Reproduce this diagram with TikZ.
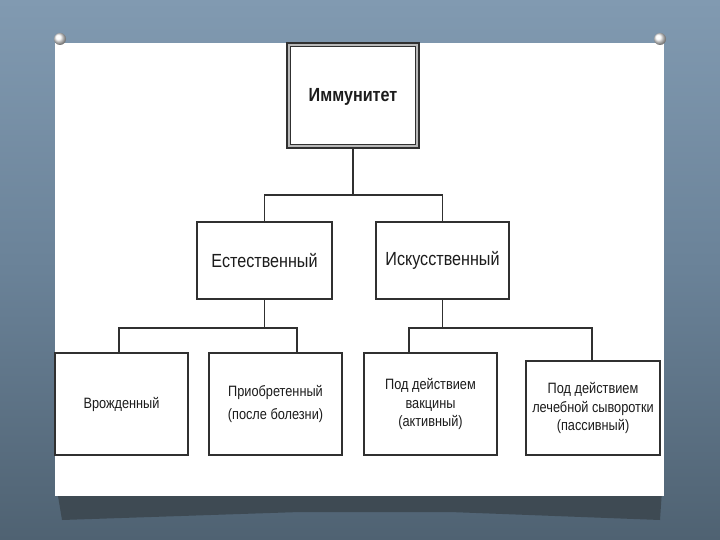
\documentclass[tikz,border=0pt]{standalone}
\usepackage{fontspec}
\setmainfont{Liberation Sans}[FakeStretch=0.85]
\usetikzlibrary{calc}
\definecolor{bgtop}{HTML}{819AB1}
\definecolor{bgmid}{HTML}{6A8298}
\definecolor{bgbot}{HTML}{4F6272}
\definecolor{shadowc}{HTML}{3E4A53}
\definecolor{ink}{HTML}{1C1C1C}
\definecolor{edge}{HTML}{303030}
\tikzset{
  box/.style={draw=edge, line width=1.4pt, fill=white, inner sep=0pt, align=center, text=ink},
  midtext/.style={font=\fontsize{19}{22}\selectfont},
  lowtext/.style={font=\fontsize{15}{18.5}\selectfont},
  conn/.style={draw=edge, line width=1.4pt},
  pin/.style={ball color=white, draw=none}
}
\begin{document}
\begin{tikzpicture}[x=1pt,y=-1pt]
\useasboundingbox (0,0) rectangle (720,540);
% background
\shade[top color=bgtop, bottom color=bgbot, middle color=bgmid] (0,0) rectangle (720,540);
% shadow under panel
\fill[shadowc] (57,490) -- (662,490) -- (660,520) -- (450,512) -- (300,512) -- (62,520) -- cycle;
% panel
\fill[white] (55,43) rectangle (664,496);
% pins
\shade[pin] (60,39) circle (6);
\shade[pin] (660,39) circle (6);
% nodes
\node[box, fill=gray!55, minimum width=132pt, minimum height=105pt] (imm) at (353,95.5) {};
\fill[white, draw=edge, line width=1.2pt] ([shift={(4pt,-4pt)}]imm.north west) rectangle ([shift={(-4pt,4pt)}]imm.south east);
\node[text=ink, font=\fontsize{19}{22}\selectfont\bfseries] (immt) at (353,97) {Иммунитет};
\node[box, midtext, minimum width=135pt, minimum height=77pt] (nat) at (264.5,260.5) {Естественный};
\node[box, midtext, minimum width=133pt, minimum height=77pt] (art) at (442.5,260.5) {Искусственный};
\node[box, lowtext, minimum width=133pt, minimum height=102pt] (inn) at (121.5,404) {Врожденный};
\node[box, lowtext, minimum width=133pt, minimum height=102pt] (acq) at (275.5,404) {Приобретенный\\[4pt](после болезни)};
\node[box, lowtext, minimum width=133pt, minimum height=102pt] (vac) at (430.5,404) {Под действием\\вакцины\\(активный)};
\node[box, lowtext, minimum width=134pt, minimum height=94pt] (ser) at (593,408) {Под действием\\лечебной сыворотки\\(пассивный)};
% connectors
\coordinate (j1) at (353,195);
\coordinate (j2) at (264.5,328);
\coordinate (j3) at (442.5,328);
\draw[conn] (imm.south) -- (j1);
\draw[conn] (nat.north) |- (j1) -| (art.north);
\draw[conn] (nat.south) -- (j2);
\draw[conn] ([xshift=-2.5pt]inn.north) |- (j2) -| ([xshift=21.5pt]acq.north);
\draw[conn] (art.south) -- (j3);
\draw[conn] ([xshift=-21.5pt]vac.north) |- (j3) -| ([xshift=-1pt]ser.north);
\end{tikzpicture}
\end{document}
